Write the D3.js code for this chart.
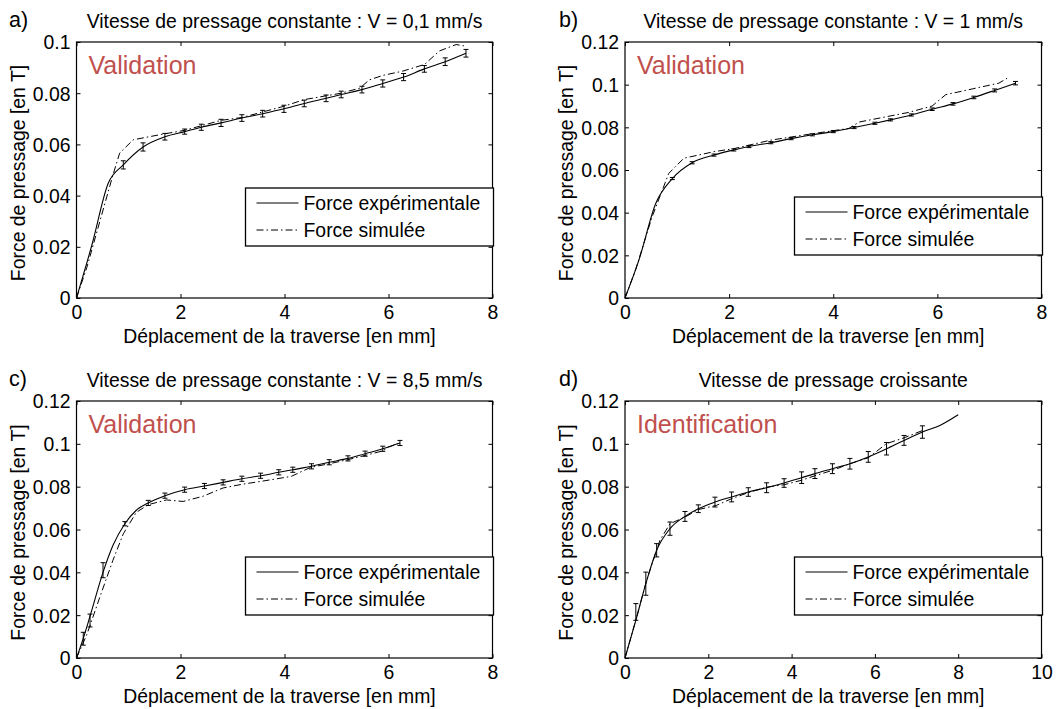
<!DOCTYPE html>
<html><head><meta charset="utf-8">
<script src="https://cdn.jsdelivr.net/npm/d3@7"></script>
<style>body{margin:0;background:#fff}svg{display:block}text{font-family:"Liberation Sans",Arial,sans-serif}</style>
</head><body>
<script>
// ---------- DATA ----------
const panelLetters = ["a)", "b)", "c)", "d)"];
const titles = ["Vitesse de pressage constante : V = 0,1 mm/s", "Vitesse de pressage constante : V = 1 mm/s",
  "Vitesse de pressage constante : V = 8,5 mm/s", "Vitesse de pressage croissante"];
const tags = ["Validation", "Validation", "Validation", "Identification"];
const xMax = [8, 8, 8, 10];
const yMax = [0.1, 0.12, 0.12, 0.12];
const xTicksA = [0, 2, 4, 6, 8];
const xTicksD = [0, 2, 4, 6, 8, 10];
const yTicksA = [0, 0.02, 0.04, 0.06, 0.08, 0.1];
const yTicksB = [0, 0.02, 0.04, 0.06, 0.08, 0.1, 0.12];
const legendLabels = ["Force expérimentale", "Force simulée"];
const xLabel = "Déplacement de la traverse [en mm]";
const yLabel = "Force de pressage [en T]";

// Panel a
const expA_x = [0, 0.3, 0.61, 0.9, 1.28, 1.7, 2.08, 2.4, 2.78, 3.18, 3.58, 3.99, 4.38, 4.8, 5.09, 5.49, 5.89, 6.29, 6.69, 7.09, 7.49];
const expA_y = [0, 0.021, 0.0448, 0.052, 0.059, 0.063, 0.065, 0.0667, 0.0684, 0.0703, 0.072, 0.0739, 0.076, 0.078, 0.0795, 0.0814, 0.0838, 0.0863, 0.0895, 0.0923, 0.0956];
const errA_x = [0.9, 1.28, 1.7, 2.08, 2.4, 2.78, 3.18, 3.58, 3.99, 4.38, 4.8, 5.09, 5.49, 5.89, 6.29, 6.69, 7.09, 7.49];
const errA_y = [0.052, 0.059, 0.063, 0.065, 0.0667, 0.0684, 0.0703, 0.072, 0.0739, 0.076, 0.078, 0.0795, 0.0814, 0.0838, 0.0863, 0.0895, 0.0923, 0.0956];
const errA_e = [0.0016, 0.0016, 0.0013, 0.001, 0.0012, 0.0014, 0.0013, 0.0013, 0.0014, 0.0013, 0.0013, 0.0013, 0.0013, 0.0014, 0.0014, 0.0013, 0.0015, 0.0015];
const simA_x = [0, 0.2, 0.45, 0.7, 0.83, 1.09, 1.66, 2.08, 2.78, 3.18, 3.99, 4.38, 5.09, 5.45, 5.63, 5.9, 6.27, 6.69, 6.98, 7.3, 7.45];
const simA_y = [0, 0.012, 0.03, 0.048, 0.0566, 0.0618, 0.064, 0.0655, 0.0694, 0.0705, 0.0749, 0.0775, 0.080, 0.082, 0.0852, 0.087, 0.0886, 0.0912, 0.0965, 0.099, 0.0985];

// Panel b
const expB_x = [0, 0.27, 0.59, 0.91, 1.29, 1.71, 2.09, 2.38, 2.8, 3.19, 3.6, 4.0, 4.4, 4.8, 5.1, 5.5, 5.9, 6.3, 6.7, 7.1, 7.5];
const expB_y = [0, 0.018, 0.0443, 0.056, 0.0634, 0.067, 0.0694, 0.071, 0.0728, 0.0747, 0.0765, 0.078, 0.0799, 0.0819, 0.0835, 0.0858, 0.0885, 0.091, 0.094, 0.0973, 0.1007];
const errB_x = [0.91, 1.29, 1.71, 2.09, 2.38, 2.8, 3.19, 3.6, 4.0, 4.4, 4.8, 5.1, 5.5, 5.9, 6.3, 6.7, 7.1, 7.5];
const errB_y = [0.056, 0.0634, 0.067, 0.0694, 0.071, 0.0728, 0.0747, 0.0765, 0.078, 0.0799, 0.0819, 0.0835, 0.0858, 0.0885, 0.091, 0.094, 0.0973, 0.1007];
const errB_e = [0.0005, 0.0005, 0.0005, 0.0005, 0.0005, 0.0005, 0.0005, 0.0005, 0.0005, 0.0005, 0.0005, 0.0005, 0.0005, 0.0006, 0.0006, 0.0006, 0.0007, 0.0008];
const simB_x = [0, 0.2, 0.52, 0.84, 1.13, 1.71, 2.09, 2.8, 3.6, 4.3, 4.5, 5.45, 5.9, 6.16, 6.67, 7.18, 7.34];
const simB_y = [0, 0.013, 0.038, 0.0584, 0.0655, 0.0686, 0.070, 0.074, 0.077, 0.0795, 0.0825, 0.087, 0.09, 0.0953, 0.098, 0.1007, 0.103];

// Panel c
const expC_x = [0, 0.13, 0.26, 0.51, 0.7, 0.93, 1.15, 1.38, 1.7, 2.08, 2.46, 2.82, 3.18, 3.54, 3.89, 4.16, 4.52, 4.86, 5.22, 5.55, 5.89, 6.22];
const expC_y = [0, 0.0092, 0.0195, 0.04, 0.0525, 0.0627, 0.069, 0.0724, 0.0758, 0.0786, 0.0803, 0.082, 0.0837, 0.0851, 0.0867, 0.0879, 0.0895, 0.0914, 0.0932, 0.0954, 0.0977, 0.1004];
const errC_x = [0.13, 0.26, 0.51, 0.93, 1.38, 1.7, 2.08, 2.46, 2.82, 3.18, 3.54, 3.89, 4.16, 4.52, 4.86, 5.22, 5.55, 5.89, 6.22];
const errC_y = [0.009, 0.0175, 0.041, 0.0627, 0.0724, 0.0758, 0.0786, 0.0803, 0.082, 0.0837, 0.0851, 0.0867, 0.0879, 0.0895, 0.0914, 0.0932, 0.0954, 0.0977, 0.1004];
const errC_e = [0.003, 0.003, 0.0035, 0.001, 0.0012, 0.0012, 0.0012, 0.0012, 0.0012, 0.0012, 0.0012, 0.0012, 0.0012, 0.0012, 0.0012, 0.0012, 0.0012, 0.0012, 0.0012];
const simC_x = [0, 0.2, 0.45, 0.7, 0.9, 1.15, 1.38, 1.73, 2.05, 2.43, 2.82, 3.18, 3.58, 4.13, 4.5, 4.86, 5.22, 5.55, 5.89, 6.0, 6.22];
const simC_y = [0, 0.011, 0.0285, 0.0456, 0.058, 0.068, 0.0716, 0.0738, 0.0731, 0.0755, 0.0794, 0.0811, 0.0826, 0.0848, 0.089, 0.0907, 0.0926, 0.0946, 0.0967, 0.0985, 0.1004];

// Panel d
const expD_x = [0, 0.26, 0.5, 0.76, 1.08, 1.44, 1.76, 2.16, 2.56, 2.96, 3.4, 3.82, 4.24, 4.56, 4.98, 5.4, 5.84, 6.28, 6.7, 7.14, 7.56, 8.0];
const expD_y = [0, 0.0176, 0.0347, 0.0503, 0.0604, 0.0661, 0.0697, 0.0728, 0.0752, 0.0775, 0.0795, 0.0817, 0.0842, 0.0861, 0.0884, 0.0907, 0.0939, 0.0977, 0.1016, 0.1055, 0.1086, 0.1136];
const errD_x = [0.26, 0.5, 0.76, 1.08, 1.44, 1.76, 2.16, 2.56, 2.96, 3.4, 3.82, 4.24, 4.56, 4.98, 5.4, 5.84, 6.28, 6.7, 7.14];
const errD_y = [0.0215, 0.0347, 0.0503, 0.0604, 0.0661, 0.0697, 0.0728, 0.0752, 0.0775, 0.0795, 0.0817, 0.0842, 0.0861, 0.0884, 0.0907, 0.0939, 0.0977, 0.1016, 0.1055];
const errD_e = [0.0039, 0.0054, 0.0031, 0.0031, 0.0023, 0.0018, 0.0023, 0.0023, 0.002, 0.0023, 0.002, 0.0027, 0.0023, 0.0023, 0.0025, 0.0025, 0.0029, 0.0023, 0.0029];
const simD_x = [0, 0.28, 0.52, 0.84, 1.08, 1.44, 1.76, 2.2, 2.56, 2.96, 3.4, 3.82, 4.24, 4.56, 4.98, 5.4, 5.84, 6.28, 6.7, 7.14];
const simD_y = [0, 0.0191, 0.0363, 0.055, 0.0627, 0.0658, 0.0693, 0.0713, 0.0744, 0.0772, 0.0798, 0.0809, 0.083, 0.0851, 0.0876, 0.0907, 0.0935, 0.1001, 0.1028, 0.1062];

// ---------- BUILD ----------
const zip = (xs, ys) => xs.map((x, i) => [x, ys[i]]);
const panels = [
  {exp: zip(expA_x, expA_y), sim: zip(simA_x, simA_y), err: errA_x.map((x, i) => [x, errA_y[i], errA_e[i]]), xt: xTicksA, yt: yTicksA},
  {exp: zip(expB_x, expB_y), sim: zip(simB_x, simB_y), err: errB_x.map((x, i) => [x, errB_y[i], errB_e[i]]), xt: xTicksA, yt: yTicksB},
  {exp: zip(expC_x, expC_y), sim: zip(simC_x, simC_y), err: errC_x.map((x, i) => [x, errC_y[i], errC_e[i]]), xt: xTicksA, yt: yTicksB},
  {exp: zip(expD_x, expD_y), sim: zip(simD_x, simD_y), err: errD_x.map((x, i) => [x, errD_y[i], errD_e[i]]), xt: xTicksD, yt: yTicksB}
];
const boxes = [
  {l: 76.5, r: 492.5, t: 42, b: 298, legT: 188},
  {l: 625, r: 1041.5, t: 42, b: 298, legT: 197},
  {l: 76.5, r: 492.5, t: 401, b: 658, legT: 557},
  {l: 625, r: 1041.5, t: 401, b: 658, legT: 557}
];
const DASH = "7,3,1.5,3";
const FS = 19.4;

const svg = d3.select("body").append("svg").attr("width", 1057).attr("height", 709);

panels.forEach((p, i) => {
  const B = boxes[i];
  const x = d3.scaleLinear().domain([0, xMax[i]]).range([B.l, B.r]);
  const y = d3.scaleLinear().domain([0, yMax[i]]).range([B.b, B.t]);
  const g = svg.append("g");
  const cx = (B.l + B.r) / 2;

  // panel letter & title
  g.append("text").attr("x", i % 2 ? 559 : 9).attr("y", B.t - 15).attr("font-size", 21.5).text(panelLetters[i]);
  g.append("text").attr("x", cx).attr("y", B.t - 14).attr("text-anchor", "middle").attr("font-size", FS).text(titles[i]);

  // axes (outside labels) + mirrored inside ticks
  const fmt = d => d === 0 ? "0" : String(+d.toFixed(2));
  const ax = g.append("g").attr("transform", `translate(0,${B.b})`)
    .call(d3.axisBottom(x).tickValues(p.xt).tickSize(-4).tickPadding(7).tickFormat(fmt));
  const ay = g.append("g").attr("transform", `translate(${B.l},0)`)
    .call(d3.axisLeft(y).tickValues(p.yt).tickSize(-4).tickPadding(6).tickFormat(fmt));
  const axT = g.append("g").attr("transform", `translate(0,${B.t})`)
    .call(d3.axisTop(x).tickValues(p.xt).tickSize(-4).tickFormat(""));
  const ayR = g.append("g").attr("transform", `translate(${B.r},0)`)
    .call(d3.axisRight(y).tickValues(p.yt).tickSize(-4).tickFormat(""));
  [ax, ay, axT, ayR].forEach(a => {
    a.select(".domain").remove();
    a.selectAll("line").attr("stroke", "#000");
    a.selectAll("text").attr("font-size", FS).attr("font-family", '"Liberation Sans",Arial,sans-serif').attr("fill", "#000");
  });
  ay.selectAll("text").attr("dy", "0.36em");

  // box
  g.append("rect").attr("x", B.l).attr("y", B.t).attr("width", B.r - B.l).attr("height", B.b - B.t)
    .attr("fill", "none").attr("stroke", "#000").attr("stroke-width", 1.2);

  // axis titles
  g.append("text").attr("x", cx - 5).attr("y", B.b + 45).attr("text-anchor", "middle").attr("font-size", FS).text(xLabel);
  g.append("text").attr("transform", `translate(${B.l - 52},${(B.t + B.b) / 2 + 3}) rotate(-90)`)
    .attr("text-anchor", "middle").attr("font-size", FS).text(yLabel);

  // tag
  g.append("text").attr("x", B.l + 12).attr("y", B.t + 32).attr("font-size", 25)
    .attr("font-family", "Lato, 'Open Sans', sans-serif").attr("fill", "#c0504d").text(tags[i]);

  // curves
  const line = d3.line().x(d => x(d[0])).y(d => y(d[1]));
  g.append("path").datum(p.sim).attr("d", line.curve(d3.curveLinear)).attr("fill", "none")
    .attr("stroke", "#000").attr("stroke-width", 1).attr("stroke-dasharray", DASH);
  g.append("path").datum(p.exp).attr("d", d3.line().x(d => x(d[0])).y(d => y(d[1])).curve(d3.curveMonotoneX))
    .attr("fill", "none").attr("stroke", "#000").attr("stroke-width", 1.1);

  // error bars
  const eb = g.append("g").attr("stroke", "#000").attr("stroke-width", 1);
  p.err.forEach(e => {
    const X = x(e[0]), y0 = y(e[1] - e[2]), y1 = y(e[1] + e[2]);
    eb.append("line").attr("x1", X).attr("x2", X).attr("y1", y0).attr("y2", y1);
    eb.append("line").attr("x1", X - 2.5).attr("x2", X + 2.5).attr("y1", y0).attr("y2", y0);
    eb.append("line").attr("x1", X - 2.5).attr("x2", X + 2.5).attr("y1", y1).attr("y2", y1);
  });

  // legend
  const lg = g.append("g").attr("transform", `translate(${B.r - 247},${B.legT})`);
  lg.append("rect").attr("width", 248).attr("height", 58).attr("fill", "#fff").attr("stroke", "#000").attr("stroke-width", 1.3);
  legendLabels.forEach((lab, k) => {
    const yy = 15 + k * 27;
    lg.append("line").attr("x1", 11).attr("x2", 53).attr("y1", yy).attr("y2", yy).attr("stroke", "#000")
      .attr("stroke-width", 1).attr("stroke-dasharray", k ? DASH : null);
    lg.append("text").attr("x", 58).attr("y", yy).attr("dy", "0.35em").attr("font-size", FS).text(lab);
  });
});
</script>
</body></html>
